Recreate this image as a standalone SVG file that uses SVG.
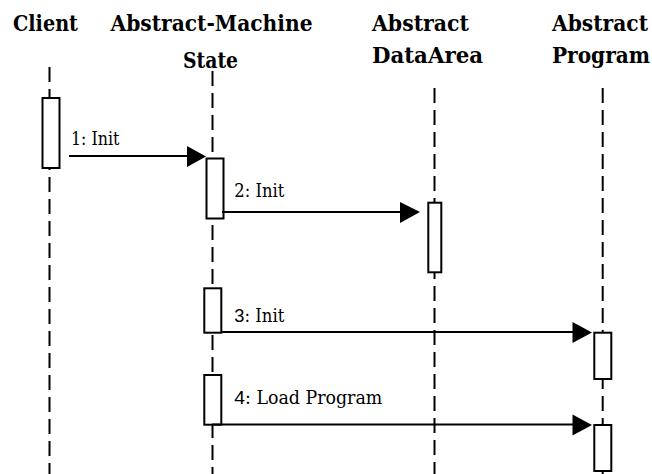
<svg xmlns="http://www.w3.org/2000/svg" width="652" height="474" viewBox="0 0 652 474">
  <style>
    .head { font-family: 'DejaVu Serif Condensed', 'DejaVu Serif', 'Liberation Serif', serif; font-weight: bold; font-size: 23px; fill: #000; }
    .msg { font-family: 'DejaVu Serif Condensed', 'DejaVu Serif', 'Liberation Serif', serif; font-size: 18px; fill: #000; }
    .num { font-family: 'Liberation Sans', 'DejaVu Sans', sans-serif; }
    .life { stroke: #000; stroke-width: 2; stroke-dasharray: 15 7; fill: none; }
    .act { fill: #fff; stroke: #000; stroke-width: 2; }
    .line { stroke: #000; stroke-width: 2; fill: none; }
    .tip { fill: #000; stroke: none; }
  </style>
  <rect width="652" height="474" fill="#fff"/>

  <!-- lifelines -->
  <g id="lifelines">
    <line class="life" x1="49.5" y1="67" x2="49.5" y2="474"/>
    <line class="life" x1="212.5" y1="71" x2="212.5" y2="474"/>
    <line class="life" x1="434.5" y1="88" x2="434.5" y2="474"/>
    <line class="life" x1="602.7" y1="88" x2="602.7" y2="474"/>
  </g>

  <!-- participants -->
  <g id="client">
    <text class="head" x="13" y="30.5" textLength="65" lengthAdjust="spacingAndGlyphs">Client</text>
    <rect class="act" x="42.5" y="98" width="17" height="70"/>
  </g>
  <g id="machine-state">
    <text class="head" x="110.5" y="30.5" textLength="202" lengthAdjust="spacingAndGlyphs">Abstract-Machine</text>
    <text class="head" x="183" y="68" textLength="55" lengthAdjust="spacingAndGlyphs">State</text>
    <rect class="act" x="206.5" y="158.5" width="17" height="60"/>
    <rect class="act" x="204.3" y="288.3" width="17" height="44.4"/>
    <rect class="act" x="204.3" y="375" width="17" height="49.7"/>
  </g>
  <g id="data-area">
    <text class="head" x="372" y="30.5" textLength="97" lengthAdjust="spacingAndGlyphs">Abstract</text>
    <text class="head" x="372" y="63" textLength="111" lengthAdjust="spacingAndGlyphs">DataArea</text>
    <rect class="act" x="428.3" y="202.7" width="13" height="69.6"/>
  </g>
  <g id="program">
    <text class="head" x="552" y="30.5" textLength="96" lengthAdjust="spacingAndGlyphs">Abstract</text>
    <text class="head" x="552" y="63" textLength="98" lengthAdjust="spacingAndGlyphs">Program</text>
    <rect class="act" x="594.3" y="332.7" width="17" height="46.3"/>
    <rect class="act" x="594.3" y="425" width="17" height="46"/>
  </g>

  <!-- messages -->
  <g id="connectors">
    <line class="line" x1="69" y1="156" x2="190" y2="156"/>
    <polygon class="tip" points="187,146 206,156.5 187,167"/>
    <text class="msg" x="71" y="145" textLength="48.5" lengthAdjust="spacingAndGlyphs">1: Init</text>

    <line class="line" x1="222" y1="212" x2="403" y2="212"/>
    <polygon class="tip" points="400,202 420,212 400,223"/>
    <text class="msg" x="234.3" y="197" textLength="50" lengthAdjust="spacingAndGlyphs">2: Init</text>

    <line class="line" x1="222" y1="332" x2="576" y2="332"/>
    <polygon class="tip" points="572.5,322 592,332.5 572.5,343"/>
    <text class="msg" x="234.3" y="322" textLength="50" lengthAdjust="spacingAndGlyphs"><tspan class="num">3</tspan>: Init</text>

    <line class="line" x1="212" y1="424.5" x2="576" y2="424.5"/>
    <polygon class="tip" points="572.5,414.5 592,425 572.5,435.5"/>
    <text class="msg" x="234.3" y="404" textLength="148" lengthAdjust="spacingAndGlyphs"><tspan class="num">4</tspan>: Load Program</text>
  </g>
</svg>
